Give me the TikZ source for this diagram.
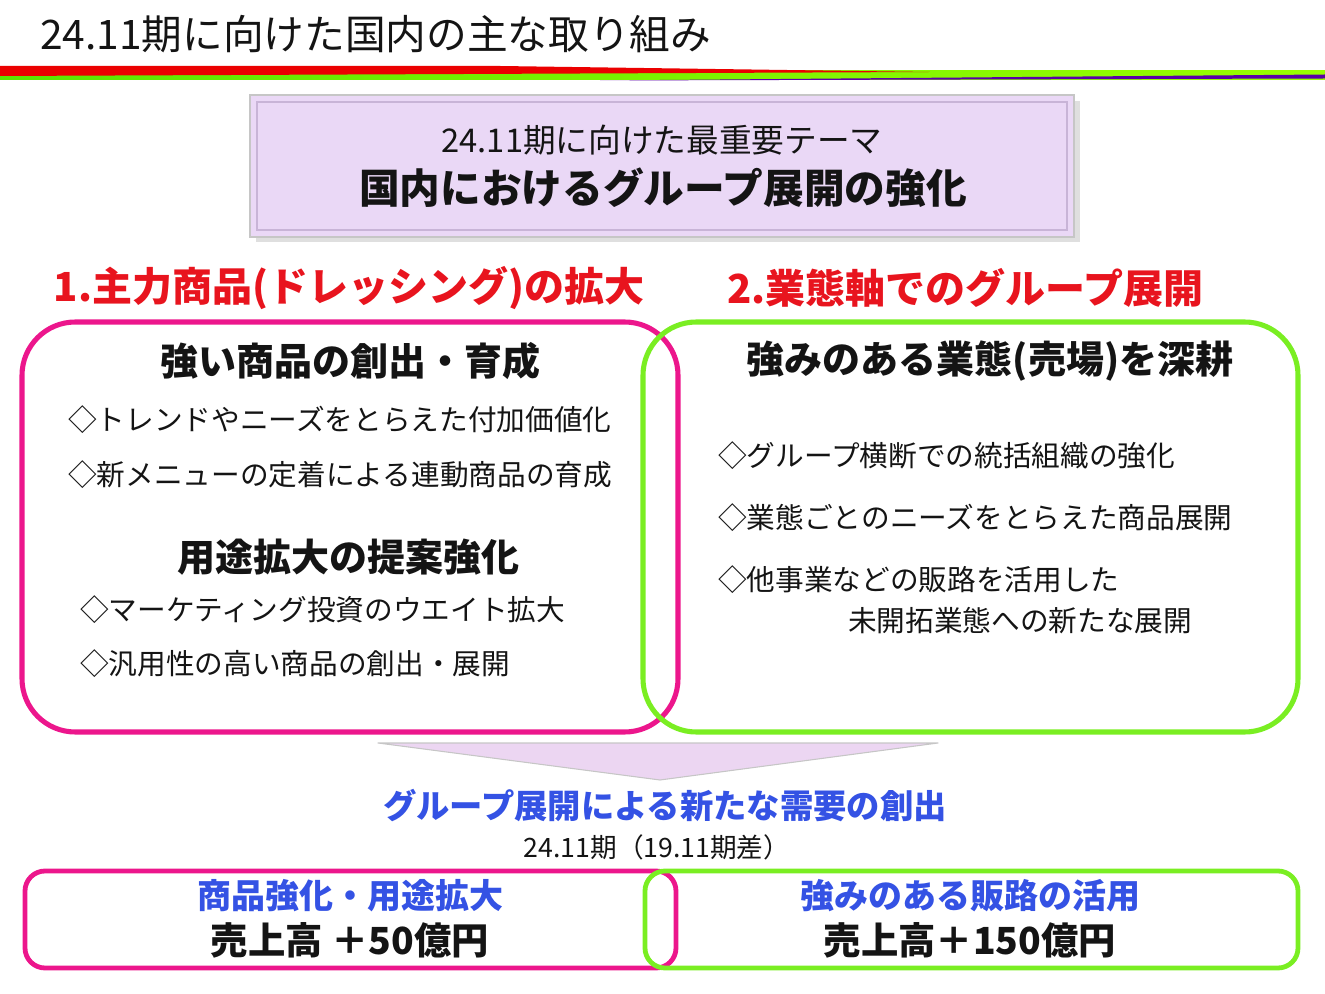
\documentclass[tikz,border=0pt]{standalone}
\usepackage{fontspec}
\setmainfont{Noto Sans CJK JP}
\usetikzlibrary{positioning}
\definecolor{ink}{RGB}{20,20,20}
\definecolor{pinkc}{RGB}{236,22,140}
\definecolor{limec}{RGB}{122,238,34}
\definecolor{redh}{RGB}{232,20,30}
\definecolor{blueh}{RGB}{52,82,228}
\definecolor{lav}{RGB}{234,216,246}
\definecolor{lavedge}{RGB}{200,180,215}
\definecolor{arrowfill}{RGB}{236,214,242}
\newcommand{\pxsize}[1]{\fontsize{#1pt}{1.15\dimexpr#1pt\relax}\selectfont}
\tikzset{
  txt/.style={inner sep=0pt,text=ink},
  ttl/.style={txt,anchor=west,font=\pxsize{30.5}},
  hdr/.style={inner sep=0pt,text=redh,font=\pxsize{30}\bfseries},
  sub/.style={txt,font=\pxsize{28.5}\bfseries},
  item/.style={txt,anchor=west,font=\pxsize{21.5}},
  res/.style={inner sep=0pt,text=blueh,font=\pxsize{25.5}\bfseries},
  amount/.style={txt,font=\pxsize{28}\bfseries},
  frame/.style={draw=#1,line width=3.8pt,rounded corners=40pt},
  frame/.default=pinkc,
  slim/.style={draw=#1,line width=3.6pt,rounded corners=15pt},
}
\begin{document}
\begin{tikzpicture}[x=0.75pt,y=-0.75pt]
\useasboundingbox (0,0) rectangle (1325,994);
% title and colour rule
\node[ttl] (title) at (40,34) {24.11期に向けた国内の主な取り組み};
\shade[left color=green!60!yellow!90!black,right color=yellow!60!green] (0,71) rectangle (1325,80);
\fill[red!92!black] (0,66) -- (500,66) -- (930,72) -- (0,76) -- cycle;
\fill[violet!70!blue] (600,80.5) -- (1325,74.5) -- (1325,78.5) -- cycle;
% theme box
\fill[gray!25] (256,101) rectangle (1080,242);
\draw[gray!45,fill=lav,line width=1pt] (250,95) rectangle (1074,237);
\draw[lavedge,line width=1.2pt] (257,102) rectangle (1067,230);
\node[txt,font=\pxsize{24.5}] (theme) at (662,140) {24.11期に向けた最重要テーマ};
\node[txt,font=\pxsize{30.5}\bfseries] (themeb) at (663,188) {国内におけるグループ展開の強化};
% two pillars
\node[hdr] (h1) at (349,288) {1.主力商品(ドレッシング)の拡大};
\node[hdr] (h2) at (965,288) {2.業態軸でのグループ展開};
\draw[frame=pinkc] (22,322) rectangle (678,732);
\draw[frame=limec] (643,322) rectangle (1298,732);
\node[sub] (s1) at (350,361) {強い商品の創出・育成};
\node[item] (a1) at (68,420) {◇トレンドやニーズをとらえた付加価値化};
\node[item] (a2) at (68,475) {◇新メニューの定着による連動商品の育成};
\node[sub] (s2) at (348,557) {用途拡大の提案強化};
\node[item] (a3) at (80,610) {◇マーケティング投資のウエイト拡大};
\node[item] (a4) at (80,664) {◇汎用性の高い商品の創出・展開};
\node[sub] (s3) at (990,361) {強みのある業態(売場)を深耕};
\node[item] (b1) at (718,456) {◇グループ横断での統括組織の強化};
\node[item] (b2) at (718,518) {◇業態ごとのニーズをとらえた商品展開};
\node[item] (b3) at (718,580) {◇他事業などの販路を活用した};
\node[item] (b4) at (848,621) {未開拓業態への新たな展開};
% arrow down
\draw[gray!45,fill=arrowfill,line width=0.8pt,line join=round] (378,743) -- (938,743) -- (660,780) -- cycle;
\node[res,font=\pxsize{25}\bfseries] (goal) at (665,806) {グループ展開による新たな需要の創出};
\node[txt,font=\pxsize{20}] (period) at (657,847) {24.11期（19.11期差）};
% results
\draw[slim=pinkc] (25,871) rectangle (676,968);
\draw[slim=limec] (645,871) rectangle (1298,968);
\node[res] (r1) at (350,896) {商品強化・用途拡大};
\node[amount] (v1) at (350,940) {売上高 ＋50億円};
\node[res] (r2) at (970,896) {強みのある販路の活用};
\node[amount] (v2) at (970,940) {売上高＋150億円};
\end{tikzpicture}
\end{document}
